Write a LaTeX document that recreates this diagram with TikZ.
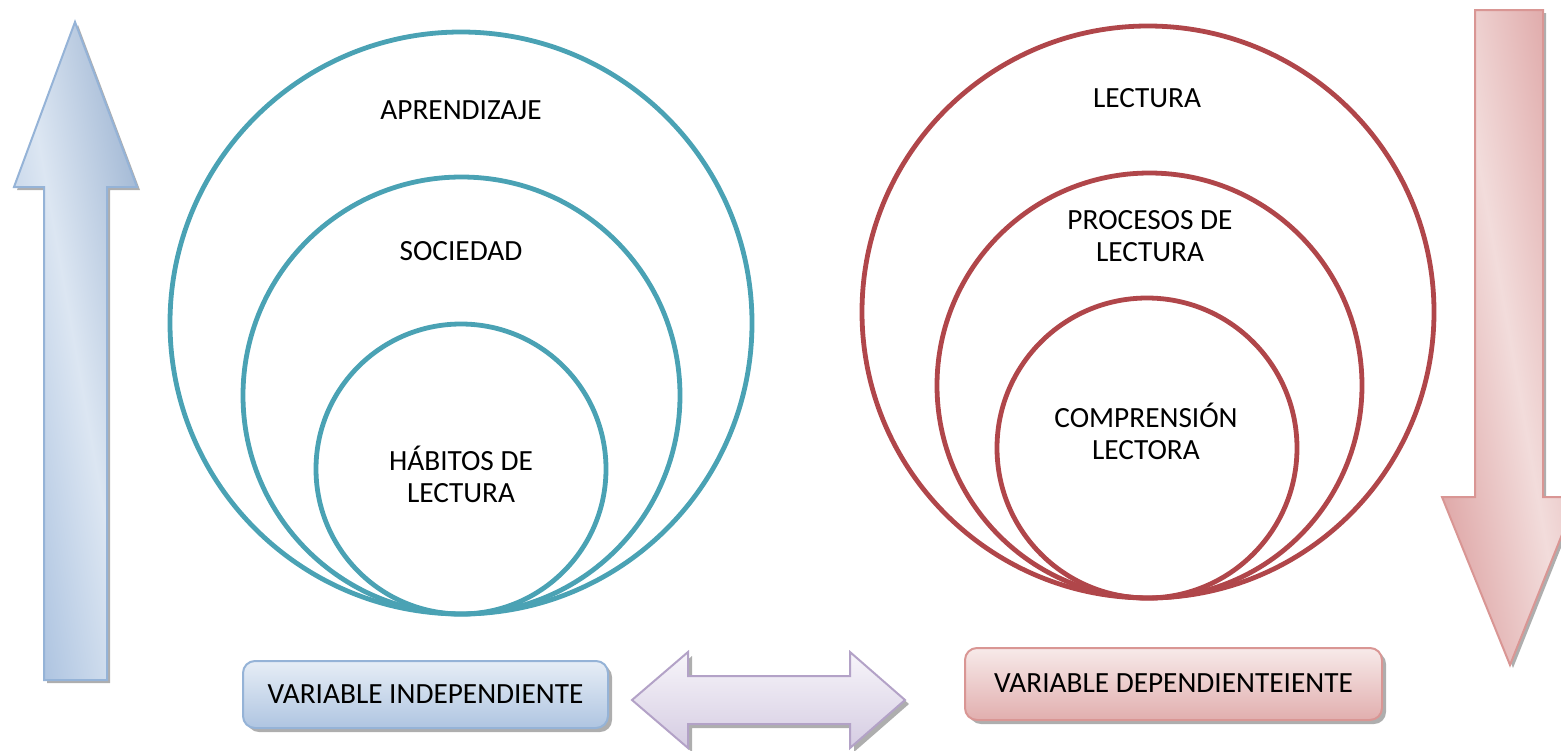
\documentclass[tikz,border=0pt]{standalone}
\usepackage{fontspec}
\setmainfont{Carlito}
\begin{document}
\begin{tikzpicture}[x=1pt,y=-1pt]
\definecolor{teal}{HTML}{4AA2B4}
\definecolor{dred}{HTML}{B0464A}
\definecolor{bluedge}{HTML}{95B3D7}
\definecolor{bluelt}{HTML}{DCE6F2}
\definecolor{bluedk}{HTML}{A7BFDE}
\definecolor{pinkedge}{HTML}{D99694}
\definecolor{pinklt}{HTML}{F2DCDB}
\definecolor{pinkdk}{HTML}{DDA3A3}
\definecolor{lavedge}{HTML}{B3A2C7}
\definecolor{lavlt}{HTML}{F7F5FA}
\definecolor{lavdk}{HTML}{D5CCE2}
\definecolor{shadowc}{HTML}{9A9A9A}
\tikzset{
  ring/.style={circle, draw=#1, line width=4.8pt, inner sep=0pt},
  lbl/.style={font=\fontsize{29.3}{32}\selectfont, align=center, text=black},
  boxlbl/.style={font=\fontsize{29.3}{32}\selectfont, text=black},
  shadowfill/.style={fill=shadowc, draw=none, opacity=0.8},
}
\useasboundingbox (0,0) rectangle (1561,750);
% left up arrow
\fill[shadowfill] (78,25) -- (140,190) -- (110,190) -- (110,683) -- (47,683) -- (47,190) -- (17,190) -- cycle;
\path[draw=bluedge, line width=2pt, left color=bluedk, right color=bluedk!95!black, middle color=bluelt, shading angle=100]
  (75,22) -- (137,187) -- (107,187) -- (107,680) -- (44,680) -- (44,187) -- (14,187) -- cycle;
% right down arrow
\fill[shadowfill] (1478,13) -- (1546,13) -- (1546,500) -- (1580,500) -- (1513,668) -- (1445,500) -- (1478,500) -- cycle;
\path[draw=pinkedge, line width=2pt, left color=pinkdk, right color=pinkdk, middle color=pinklt, shading angle=100]
  (1475,10) -- (1543,10) -- (1543,497) -- (1577,497) -- (1510,665) -- (1442,497) -- (1475,497) -- cycle;
% left circles
\node[ring=teal, minimum size=582pt] (c1) at (461,323) {};
\node[ring=teal, minimum size=437pt] (c2) at (461.5,395.5) {};
\node[ring=teal, minimum size=290pt] (c3) at (461,469) {};
\node[lbl] (t1) at (461,110) {APRENDIZAJE};
\node[lbl] (t2) at (461,251) {SOCIEDAD};
\node[lbl] (t3) at (461,474) {HÁBITOS DE\\LECTURA};
% right circles
\node[ring=dred, minimum size=572pt] (d1) at (1148,312) {};
\node[ring=dred, minimum size=425pt] (d2) at (1149.5,385.5) {};
\node[ring=dred, minimum size=300pt] (d3) at (1147,448) {};
\node[lbl] (u1) at (1147,98) {LECTURA};
\node[lbl] (u2) at (1150,236) {PROCESOS DE\\LECTURA};
\node[lbl] (u3) at (1146,431) {COMPRENSIÓN\\LECTORA};
% left box
\fill[shadowfill, rounded corners=12pt] (247,665) rectangle (612,732);
\path[draw=bluedge, line width=2pt, rounded corners=12pt, top color=bluelt!70!white, bottom color=bluedk!85!bluelt] (243,661) rectangle (608,728);
\node[boxlbl] (b1) at (425.5,694) {VARIABLE INDEPENDIENTE};
% right box
\fill[shadowfill, rounded corners=12pt] (969,652) rectangle (1386,724);
\path[draw=pinkedge, line width=2pt, rounded corners=12pt, top color=pinklt!60!white, bottom color=pinkdk!80!pinklt] (965,648) rectangle (1382,720);
\node[boxlbl] (b2) at (1173.5,683) {VARIABLE DEPENDIENTEIENTE};
% double arrow
\fill[shadowfill] (636,704) -- (692,656) -- (692,680) -- (854,680) -- (854,656) -- (909,704) -- (854,752) -- (854,728) -- (692,728) -- (692,752) -- cycle;
\path[draw=lavedge, line width=2pt, top color=lavlt, bottom color=lavdk]
  (632,700) -- (688,652) -- (688,676) -- (850,676) -- (850,652) -- (905,700) -- (850,748) -- (850,724) -- (688,724) -- (688,748) -- cycle;
\end{tikzpicture}
\end{document}
